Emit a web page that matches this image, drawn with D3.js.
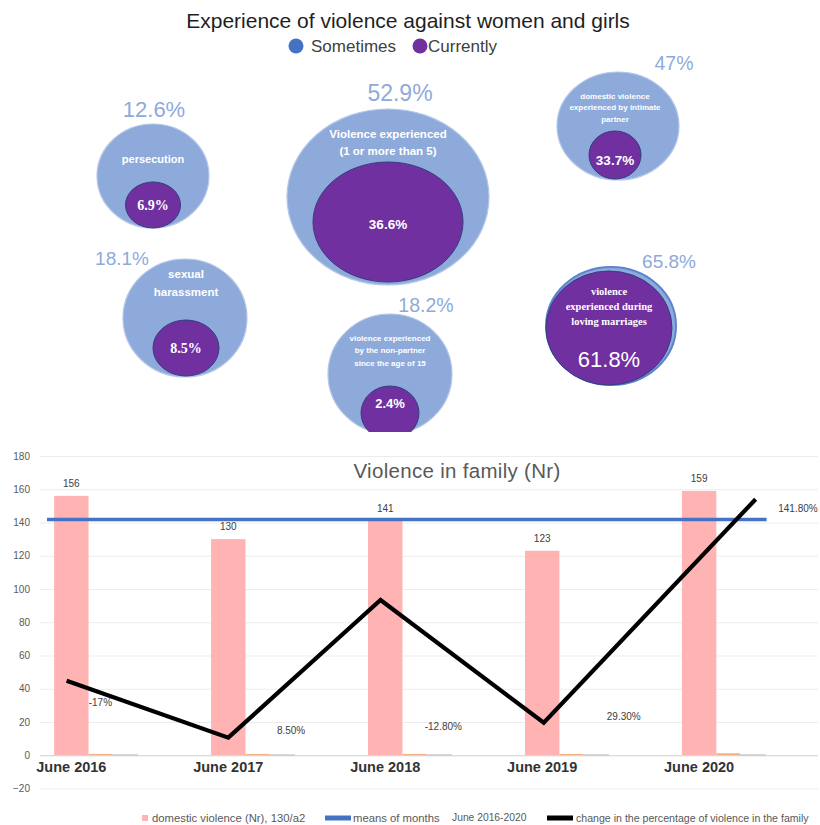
<!DOCTYPE html>
<html>
<head>
<meta charset="utf-8">
<script src="https://cdn.jsdelivr.net/npm/d3@7"></script>
<style>
  html, body { margin: 0; padding: 0; background: #fff; }
  svg { display: block; }
</style>
</head>
<body>
<svg id="chart" width="820" height="825"></svg>
<script>
// ---------- Infographic: experience of violence ----------
const bubbleCategories = [
  "persecution",
  "sexual harassment",
  "Violence experienced (1 or more than 5)",
  "violence experienced by the non-partner since the age of 15",
  "domestic violence experienced by intimate partner",
  "violence experienced during loving marriages"
];
const bubbleLines = [
  ["persecution"],
  ["sexual", "harassment"],
  ["Violence experienced", "(1 or more than 5)"],
  ["violence experienced", "by the non-partner", "since the age of 15"],
  ["domestic violence", "experienced by intimate", "partner"],
  ["violence", "experienced during", "loving marriages"]
];
const sometimesValues = [12.6, 18.1, 52.9, 18.2, 47, 65.8];
const currentlyValues = [6.9, 8.5, 36.6, 2.4, 33.7, 61.8];
const legendSeries = ["Sometimes", "Currently"];

// ---------- Bar / line chart: violence in family ----------
const years = ["June 2016", "June 2017", "June 2018", "June 2019", "June 2020"];
const violenceCounts = [156, 130, 141, 123, 159];
const orangeSeries = [0.8, 0.8, 0.8, 0.8, 1.2];
const graySeries = [0.4, 0.4, 0.4, 0.4, 0.4];
const changeLine = [44.8, 10.6, 93.4, 19.6, 154];
const changeLabels = ["-17%", "8.50%", "-12.80%", "29.30%", "141.80%"];
const yTicks = [-20, 0, 20, 40, 60, 80, 100, 120, 140, 160, 180];
const legendLabels = ["domestic violence (Nr), 130/a2", "means of months", "June 2016-2020",
  "change in the percentage of violence in the family"];

// ---------- Layout (positions and sizes of the infographic pieces) ----------
const bubbleLayout = [
  { cx: 153, cy: 176, rx: 56, ry: 52, icx: 153, icy: 205, irx: 27.5, iry: 23,
    lx: 154, ly: 109, ls: 22, ty: 159, tdy: 0, ts: 11, tserif: false, vs: 14, vserif: true, vy: 205 },
  { cx: 185, cy: 318, rx: 62, ry: 59, icx: 186, icy: 348, irx: 33, iry: 28,
    lx: 122, ly: 258, ls: 19, ty: 274, tdy: 18, ts: 11.5, tserif: false, vs: 14, vserif: true, vy: 348 },
  { cx: 388, cy: 197, rx: 101, ry: 88, icx: 388, icy: 222, irx: 75, iry: 60,
    lx: 400, ly: 93, ls: 23, ty: 134, tdy: 17, ts: 11.5, tserif: false, vs: 13.5, vserif: false, vy: 224 },
  { cx: 390, cy: 374, rx: 62, ry: 60, icx: 390, icy: 413, irx: 29, iry: 27,
    lx: 426, ly: 305, ls: 19.5, ty: 338, tdy: 12.5, ts: 8, tserif: false, vs: 13, vserif: false, vy: 403 },
  { cx: 618, cy: 126, rx: 61, ry: 54, icx: 615, icy: 155, irx: 26, iry: 24,
    lx: 674, ly: 63, ls: 19.5, ty: 96, tdy: 11.5, ts: 8, tserif: false, vs: 13.5, vserif: false, vy: 160 },
  { cx: 611, cy: 326, rx: 65, ry: 59, icx: 609, icy: 328, irx: 63, iry: 57,
    lx: 669, ly: 261, ls: 19, ty: 291, tdy: 15, ts: 10.5, tserif: true, vs: 22, vserif: false, vy: 359 }
];

const SANS = "'Liberation Sans', Arial, sans-serif";
const SERIF = "'Liberation Serif', 'Times New Roman', serif";
const BLUE_LIGHT = "#8eaadb";
const PURPLE = "#7030a0";

const svg = d3.select("#chart");
const defs = svg.append("defs");
defs.append("clipPath").attr("id", "topClip")
  .append("rect").attr("x", 0).attr("y", 0).attr("width", 820).attr("height", 432);

// ===== Top infographic =====
const topG = svg.append("g").attr("clip-path", "url(#topClip)");

topG.append("text")
  .attr("x", 408).attr("y", 28)
  .attr("text-anchor", "middle")
  .style("font-family", SANS).style("font-size", "21px").style("fill", "#1f1f1f")
  .text("Experience of violence against women and girls");

const legendTop = topG.append("g");
const legendTopPos = [{ cx: 296, tx: 311 }, { cx: 420, tx: 428 }];
const legendColors = ["#4472c4", PURPLE];
legendSeries.forEach((s, i) => {
  legendTop.append("circle").attr("cx", legendTopPos[i].cx).attr("cy", 46).attr("r", 7.5)
    .attr("fill", legendColors[i]);
  legendTop.append("text").attr("x", legendTopPos[i].tx).attr("y", 52)
    .style("font-family", SANS).style("font-size", "17px").style("fill", "#404040")
    .text(s);
});

const bubbles = topG.selectAll("g.bubble")
  .data(bubbleCategories.map((c, i) => ({
    cat: c, lines: bubbleLines[i], some: sometimesValues[i], cur: currentlyValues[i], L: bubbleLayout[i]
  })))
  .join("g").attr("class", "bubble");

bubbles.append("ellipse")
  .attr("cx", d => d.L.cx).attr("cy", d => d.L.cy)
  .attr("rx", d => d.L.rx).attr("ry", d => d.L.ry)
  .attr("fill", BLUE_LIGHT)
  .attr("stroke", (d, i) => i === 5 ? "#5b83cf" : "#b4c7e7")
  .attr("stroke-width", (d, i) => i === 5 ? 2 : 1.2);

bubbles.append("ellipse")
  .attr("cx", d => d.L.icx).attr("cy", d => d.L.icy)
  .attr("rx", d => d.L.irx).attr("ry", d => d.L.iry)
  .attr("fill", PURPLE)
  .attr("stroke", "#2f3f7f").attr("stroke-width", 1);

bubbles.append("text")
  .attr("x", d => d.L.lx).attr("y", d => d.L.ly)
  .attr("text-anchor", "middle").attr("dominant-baseline", "central")
  .style("font-family", SANS).style("font-size", d => d.L.ls + "px")
  .style("fill", BLUE_LIGHT)
  .text(d => d3.format(".1~f")(d.some) + "%");

bubbles.each(function (d) {
  const g = d3.select(this);
  d.lines.forEach((line, k) => {
    g.append("text")
      .attr("x", d.L.icx).attr("y", d.L.ty + k * d.L.tdy)
      .attr("text-anchor", "middle").attr("dominant-baseline", "central")
      .style("font-family", d.L.tserif ? SERIF : SANS)
      .style("font-weight", "bold")
      .style("font-size", d.L.ts + "px")
      .style("fill", "#ffffff")
      .text(line);
  });
});

bubbles.append("text")
  .attr("x", d => d.L.icx).attr("y", d => d.L.vy)
  .attr("text-anchor", "middle").attr("dominant-baseline", "central")
  .style("font-family", d => d.L.vserif ? SERIF : SANS)
  .style("font-weight", (d, i) => i === 5 ? "normal" : "bold")
  .style("font-size", d => d.L.vs + "px")
  .style("fill", "#ffffff")
  .text(d => d3.format(".1f")(d.cur) + "%");

// ===== Bottom chart =====
const chartG = svg.append("g");
const gridLeft = 40, gridRight = 818;

const y = d3.scaleLinear().domain([-20, 180]).range([788.5, 456]);
const x = d3.scaleBand().domain(years).range([40, 780]).paddingInner(0.465).paddingOuter(0.09);
const bw = x.bandwidth();
const pinkW = bw * 0.41;
const xc = d => x(d) + pinkW / 2;                       // centre of the count bar
const xIdx = d3.scaleLinear().domain([0, 4]).range([xc(years[0]), xc(years[4])]);

// horizontal gridlines
chartG.append("g")
  .attr("transform", `translate(${gridLeft},0)`)
  .call(d3.axisLeft(y).tickValues(yTicks).tickSize(-(gridRight - gridLeft)).tickFormat(""))
  .call(g => g.select(".domain").remove())
  .call(g => g.selectAll(".tick line").attr("stroke", d => d === 0 ? "#d0d0d0" : "#ededed"));

// y tick labels
chartG.append("g")
  .attr("transform", "translate(31,0)")
  .call(d3.axisLeft(y).tickValues(yTicks).tickSize(0).tickPadding(1))
  .call(g => g.select(".domain").remove())
  .call(g => g.selectAll(".tick text")
    .style("font-family", SANS).style("font-size", "10px").style("fill", "#595959"));

// chart title
chartG.append("text")
  .attr("x", 457).attr("y", 478)
  .attr("text-anchor", "middle")
  .style("font-family", SANS).style("font-size", "20.5px").style("fill", "#595959")
  .style("letter-spacing", "0.3px")
  .text("Violence in family (Nr)");

// count bars
chartG.selectAll("rect.count")
  .data(years.map((yr, i) => ({ yr, v: violenceCounts[i] })))
  .join("rect").attr("class", "count")
  .attr("x", d => x(d.yr)).attr("width", pinkW)
  .attr("y", d => y(d.v)).attr("height", d => y(0) - y(d.v))
  .attr("fill", "#ffb3b3");

// small companion series near zero
chartG.selectAll("rect.orange")
  .data(years.map((yr, i) => ({ yr, v: orangeSeries[i] })))
  .join("rect").attr("class", "orange")
  .attr("x", d => x(d.yr) + bw * 0.41).attr("width", bw * 0.28)
  .attr("y", d => y(d.v)).attr("height", d => y(0) - y(d.v))
  .attr("fill", "#f4b183");
chartG.selectAll("rect.gray")
  .data(years.map((yr, i) => ({ yr, v: graySeries[i] })))
  .join("rect").attr("class", "gray")
  .attr("x", d => x(d.yr) + bw * 0.69).attr("width", bw * 0.31)
  .attr("y", d => y(d.v)).attr("height", d => y(0) - y(d.v))
  .attr("fill", "#a5a5a5");

// bar value labels
chartG.selectAll("text.countLabel")
  .data(years.map((yr, i) => ({ yr, v: violenceCounts[i] })))
  .join("text").attr("class", "countLabel")
  .attr("x", d => xc(d.yr)).attr("y", d => y(d.v) - 9)
  .attr("text-anchor", "middle")
  .style("font-family", SANS).style("font-size", "10px").style("fill", "#404040")
  .text(d => d.v);

// mean of months line
const meanValue = d3.mean(violenceCounts);
chartG.append("line")
  .attr("x1", xIdx(-0.155)).attr("x2", xIdx(4.43))
  .attr("y1", y(meanValue)).attr("y2", y(meanValue))
  .attr("stroke", "#4472c4").attr("stroke-width", 3.5);

// change line (category positions along the axis)
const changeX = [-0.03, 1.0, 1.97, 3.01, 4.36];
const line = d3.line().x((d, i) => xIdx(changeX[i])).y(d => y(d));
chartG.append("path")
  .datum(changeLine)
  .attr("d", line)
  .attr("fill", "none").attr("stroke", "#000").attr("stroke-width", 4.2)
  .attr("stroke-linejoin", "miter");

// change labels
const changeLabelPos = [
  { i: 0.185, v: 31.5 }, { i: 1.4, v: 14.6 }, { i: 2.37, v: 17 }, { i: 3.52, v: 23.6 }, { i: 4.63, v: meanValue + 6.8 }
];
chartG.selectAll("text.changeLabel")
  .data(changeLabels)
  .join("text").attr("class", "changeLabel")
  .attr("x", (d, k) => xIdx(changeLabelPos[k].i))
  .attr("y", (d, k) => y(changeLabelPos[k].v))
  .attr("text-anchor", "middle").attr("dominant-baseline", "central")
  .style("font-family", SANS).style("font-size", "10px").style("fill", "#404040")
  .text(d => d);

// category labels
chartG.selectAll("text.cat")
  .data(years)
  .join("text").attr("class", "cat")
  .attr("x", d => xc(d)).attr("y", 772)
  .attr("text-anchor", "middle")
  .style("font-family", SANS).style("font-weight", "bold").style("font-size", "14.5px")
  .style("fill", "#333333")
  .text(d => d);

// legend
const lg = chartG.append("g");
lg.append("rect").attr("x", 142).attr("y", 815).attr("width", 6).attr("height", 6).attr("fill", "#ffb3b3");
lg.append("text").attr("x", 152).attr("y", 822)
  .style("font-family", SANS).style("font-size", "11.3px").style("fill", "#595959").text(legendLabels[0]);
lg.append("rect").attr("x", 325).attr("y", 815.5).attr("width", 26).attr("height", 5).attr("fill", "#4472c4");
lg.append("text").attr("x", 353).attr("y", 822)
  .style("font-family", SANS).style("font-size", "11.3px").style("fill", "#595959").text(legendLabels[1]);
lg.append("text").attr("x", 452).attr("y", 821)
  .style("font-family", SANS).style("font-size", "10.3px").style("fill", "#595959").text(legendLabels[2]);
lg.append("rect").attr("x", 547).attr("y", 815.5).attr("width", 26).attr("height", 5).attr("fill", "#000");
lg.append("text").attr("x", 576).attr("y", 822)
  .style("font-family", SANS).style("font-size", "10.6px").style("fill", "#595959").text(legendLabels[3]);
</script>
</body>
</html>
